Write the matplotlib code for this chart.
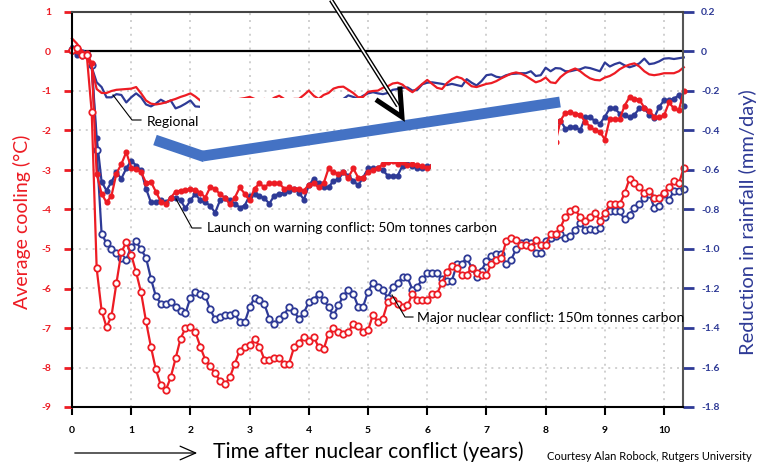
import matplotlib
matplotlib.use("Agg")
import matplotlib.pyplot as plt
import matplotlib.transforms as mtransforms
from matplotlib.lines import Line2D
from matplotlib.patches import Rectangle
import numpy as np

plt.rcParams["axes.unicode_minus"] = False
plt.rcParams["font.family"] = ["Lato", "DejaVu Sans"]

RED = "#ed1c24"
BLUE = "#2e3a96"
STROKE_BLUE = "#4472c4"
nan = np.nan

# monthly samples, years after the conflict
years = np.arange(125) / 12

# --- major nuclear conflict (150 Tg) ---
major_cool = [
    0.05, 0.08, -0.08, -0.10, -1.54, -5.49, -6.56, -6.98, -6.70, -5.87,
    -5.08, -4.83, -5.14, -5.59, -6.10, -6.83, -7.48, -8.05, -8.45, -8.58,
    -8.25, -7.77, -7.27, -7.00, -6.98, -7.10, -7.47, -7.80, -7.97, -8.15,
    -8.33, -8.43, -8.25, -7.90, -7.57, -7.47, -7.44, -7.27, -7.47, -7.80,
    -7.82, -7.75, -7.77, -7.90, -7.90, -7.49, -7.37, -7.22, -7.32, -7.22,
    -7.49, -7.54, -7.14, -7.01, -7.10, -7.14, -7.11, -6.89, -6.96, -7.11,
    -7.06, -6.66, -6.86, -6.76, -6.35, -6.30, -6.40, -6.48, -6.43, -6.13,
    -6.28, -6.30, -6.28, -6.13, -6.13, -5.85, -5.57, -5.42, -5.49, -5.65,
    -5.65, -5.47, -5.60, -5.67, -5.67, -5.37, -5.29, -5.24, -4.81, -4.73,
    -4.78, -4.91, -4.91, -4.94, -4.78, -4.91, -4.89, -4.63, -4.61, -4.46,
    -4.18, -4.03, -4.00, -4.20, -4.28, -4.20, -4.08, -4.28, -4.10, -3.85,
    -3.87, -3.87, -3.59, -3.22, -3.32, -3.44, -3.57, -3.54, -3.70, -3.70,
    -3.57, -3.44, -3.27, -3.34, -2.94,
]
major_rain = [
    0.01, 0.0, -0.01, -0.02, -0.07, -0.50, -0.922, -0.972, -1.002, -1.018,
    -1.048, -1.054, -0.988, -0.962, -1.002, -1.044, -1.15, -1.24, -1.276, -1.28,
    -1.27, -1.292, -1.312, -1.326, -1.246, -1.216, -1.226, -1.236, -1.306, -1.356,
    -1.346, -1.336, -1.336, -1.326, -1.372, -1.372, -1.296, -1.246, -1.256, -1.28,
    -1.352, -1.378, -1.352, -1.332, -1.292, -1.312, -1.356, -1.322, -1.27, -1.256,
    -1.226, -1.256, -1.296, -1.336, -1.286, -1.236, -1.206, -1.226, -1.292, -1.292,
    -1.216, -1.17, -1.194, -1.21, -1.246, -1.194, -1.17, -1.144, -1.144, -1.206,
    -1.19, -1.154, -1.124, -1.12, -1.124, -1.15, -1.164, -1.16, -1.078, -1.074,
    -1.044, -1.094, -1.144, -1.11, -1.06, -1.034, -1.024, -1.024, -1.078, -1.054,
    -1.002, -0.972, -0.966, -0.972, -1.018, -1.022, -0.962, -0.946, -0.932, -0.922,
    -0.942, -0.936, -0.902, -0.87, -0.902, -0.90, -0.906, -0.892, -0.836, -0.81,
    -0.806, -0.81, -0.85, -0.826, -0.79, -0.77, -0.744, -0.72, -0.79, -0.784,
    -0.72, -0.75, -0.708, -0.704, -0.698,
]

# --- launch on warning conflict (50 Tg); gap = hidden in the source image ---
launch_cool = [
    0.0, 0.02, -0.05, -0.05, -0.30, -3.10, -3.60, -3.82, -3.65, -3.09,
    -2.85, -2.55, -2.94, -2.98, -3.05, -3.32, -3.30, -3.55, -3.80, -3.85,
    -3.70, -3.55, -3.52, -3.50, -3.49, -3.50, -3.57, -3.70, -3.44, -3.47,
    -3.62, -3.70, -3.87, -3.70, -3.44, -3.60, -3.77, -3.47, -3.34, -3.44,
    -3.34, -3.32, -3.34, -3.47, -3.44, -3.47, -3.47, -3.52, -3.37, -3.34,
    -3.44, -3.34, -2.96, -3.06, -3.09, -3.06, -3.19, -2.96, -3.19, -3.19,
    -3.06, -2.99, -2.94, -2.86, -2.80, -2.78, -2.85, -2.80, -2.87, -2.85,
    -2.88, -2.90, -2.94, -2.90,
] + [nan] * 23 + [
    -2.50, -2.30, -1.75,
    -1.55, -1.54, -1.57, -1.60, -1.78, -1.90, -2.00, -2.03, -2.23, -1.70,
    -1.72, -1.72, -1.37, -1.16, -1.19, -1.22, -1.42, -1.50, -1.65, -1.67,
    -1.62, -1.29, -1.44, -1.49, -0.99,
]
launch_rain = [
    0.02, -0.02, -0.024, -0.01, -0.07, -0.436, -0.66, -0.704, -0.66, -0.612,
    -0.644, -0.592, -0.552, -0.578, -0.602, -0.694, -0.764, -0.764, -0.75, -0.764,
    -0.744, -0.74, -0.754, -0.794, -0.754, -0.72, -0.754, -0.764, -0.78, -0.816,
    -0.754, -0.744, -0.754, -0.77, -0.79, -0.78, -0.73, -0.724, -0.73, -0.744,
    -0.77, -0.73, -0.72, -0.714, -0.704, -0.694, -0.714, -0.75, -0.678, -0.644,
    -0.668, -0.688, -0.688, -0.654, -0.648, -0.612, -0.628, -0.654, -0.678, -0.638,
    -0.592, -0.592, -0.592, -0.602, -0.628, -0.632, -0.628, -0.578, -0.572, -0.578,
    -0.588, -0.592, -0.582, -0.58,
] + [nan] * 23 + [
    -0.40, -0.38, -0.35,
    -0.39, -0.384, -0.38, -0.40, -0.334, -0.33, -0.354, -0.366, -0.33, -0.288,
    -0.288, -0.314, -0.324, -0.334, -0.32, -0.288, -0.288, -0.32, -0.336, -0.28,
    -0.248, -0.248, -0.238, -0.222, -0.274,
]

# --- regional conflict ---
regional_cool = [
    0.33, 0.20, 0.02, -0.15, -0.40, -0.95, -1.05, -1.05, -1.00, -0.97,
    -0.96, -0.95, -0.94, -0.90, -1.06, -1.24, -1.32, -1.34, -1.32, -1.29,
    -1.24, -1.20, -1.15, -1.11, -1.06, -1.14, -1.24, -1.30, -1.30, -1.30,
    -1.25, -1.25, -1.20, -1.22, -1.20, -1.18, -1.15, -1.20, -1.25, -1.20,
    -1.25, -1.17, -1.12, -1.20, -1.25, -1.20, -1.20, -1.10, -0.99, -1.12,
    -1.20, -1.10, -1.05, -0.94, -0.90, -0.89, -0.97, -1.05, -1.16, -1.15,
    -1.02, -1.00, -0.99, -0.92, -0.88, -0.81, -0.79, -0.84, -0.95, -1.03,
    -0.93, -0.82, -0.72, -0.82, -0.92, -0.95, -0.80, -0.70, -0.64, -0.68,
    -0.78, -0.88, -0.90, -0.86, -0.82, -0.80, -0.75, -0.68, -0.62, -0.56,
    -0.53, -0.56, -0.62, -0.70, -0.78, -0.74, -0.66, -0.78, -0.80, -0.65,
    -0.55, -0.48, -0.43, -0.50, -0.60, -0.68, -0.72, -0.73, -0.66, -0.62,
    -0.55, -0.45, -0.38, -0.33, -0.30, -0.38, -0.50, -0.58, -0.60, -0.58,
    -0.55, -0.55, -0.55, -0.50, -0.40,
]
regional_rain = [
    0.03, 0.0, -0.01, -0.01, -0.08, -0.156, -0.18, -0.232, -0.232, -0.216,
    -0.22, -0.258, -0.232, -0.212, -0.232, -0.268, -0.278, -0.264, -0.244, -0.258,
    -0.248, -0.288, -0.278, -0.264, -0.248, -0.278, -0.28, -0.27, -0.28, -0.26,
    -0.27, -0.28, -0.26, -0.27, -0.28, -0.26, -0.26, -0.25, -0.26, -0.27,
    -0.26, -0.25, -0.26, -0.27, -0.26, -0.25, -0.26, -0.25, -0.25, -0.24,
    -0.25, -0.26, -0.25, -0.24, -0.25, -0.24, -0.222, -0.23, -0.24, -0.224,
    -0.212, -0.206, -0.212, -0.216, -0.21, -0.194, -0.19, -0.184, -0.182, -0.198,
    -0.194, -0.166, -0.158, -0.156, -0.16, -0.164, -0.17, -0.164, -0.17, -0.176,
    -0.14, -0.158, -0.172, -0.15, -0.12, -0.116, -0.128, -0.132, -0.12, -0.114,
    -0.112, -0.11, -0.11, -0.10, -0.124, -0.12, -0.082, -0.10, -0.084, -0.086,
    -0.10, -0.10, -0.094, -0.09, -0.08, -0.084, -0.092, -0.10, -0.056, -0.076,
    -0.064, -0.056, -0.07, -0.08, -0.072, -0.06, -0.036, -0.064, -0.06, -0.05,
    -0.036, -0.034, -0.038, -0.034, -0.03,
]

cool_ticks = list(range(-9, 2))
rain_ticks = [-1.8, -1.6, -1.4, -1.2, -1.0, -0.8, -0.6, -0.4, -0.2, 0.0, 0.2]
rain_labels = ["-1.8", "-1.6", "-1.4", "-1.2", "-1.0", "-0.8", "-0.6", "-0.4", "-0.2", "0", "0.2"]
year_ticks = list(range(0, 11))

# ---------------------------------------------------------------------------
W, H = 757, 470
fig = plt.figure(figsize=(W / 100, H / 100), dpi=100)
ax = fig.add_axes([72 / W, 1 - 407 / H, (683 - 72) / W, (407 - 12) / H])
ax2 = ax.twinx()
ax.set_zorder(2)
ax.patch.set_visible(False)

ax.set_xlim(0, 10.32)
ax.set_ylim(-9, 1)
ax2.set_ylim(-1.8, 0.2)

# pixel coordinates (origin top-left) for the overlaid sketch marks
PX = mtransforms.Affine2D().scale(1 / W, -1 / H).translate(0, 1) + fig.transFigure

# grid + zero line sit under everything
for xv in year_ticks[1:]:
    ax2.axvline(xv, color="#c4c4c4", lw=1.1, ls=(0, (1.3, 3.2)), zorder=0)
for yv in rain_ticks[1:-2]:
    ax2.axhline(yv, color="#c4c4c4", lw=1.1, ls=(0, (1.3, 3.2)), zorder=0)
ax2.axhline(0, color="black", lw=1.6, zorder=0.5)

# parts of the source image where the lines were blanked out (cooling units)
hidden_edges = dict(x_a=2.16, x_b=6.05, x_c=8.21, y_a=-1.165, y_b=-2.81, y_c=-3.77)
e = hidden_edges
visible = [
    (-1, -12, e["x_a"] + 1, 15),
    (e["x_c"], -12, 5, 15),
    (e["x_a"], e["y_a"], e["x_c"] - e["x_a"], 5),
    (e["x_a"], -12, e["x_b"] - e["x_a"], e["y_b"] + 12),
    (e["x_b"], -12, e["x_c"] - e["x_b"], e["y_c"] + 12),
]
clips = [Rectangle((x0, y0), w, h, transform=ax.transData) for x0, y0, w, h in visible]


def draw(axis, y, **kw):
    for c in clips:
        line, = axis.plot(years, y, **kw)
        line.set_clip_path(c)


draw(ax2, regional_rain, color=BLUE, lw=1.6, zorder=2)
draw(ax2, launch_rain, color=BLUE, lw=1.6, marker="o", ms=3.4, zorder=2)
draw(ax2, major_rain, color=BLUE, lw=1.6, marker="o", ms=4.6, mfc="white",
     mew=1.3, zorder=2)
draw(ax, regional_cool, color=RED, lw=1.6, zorder=2)
draw(ax, launch_cool, color=RED, lw=1.6, marker="o", ms=3.4, zorder=2)
draw(ax, major_cool, color=RED, lw=1.6, marker="o", ms=4.6, mfc="white",
     mew=1.3, zorder=2)

# axes styling
ax.set_xticks(year_ticks)
ax.set_yticks(cool_ticks)
ax2.set_yticks(rain_ticks)
ax2.set_yticklabels(rain_labels)
ax.tick_params(axis="x", colors="black", length=6, width=1.5, pad=8)
ax.tick_params(axis="y", colors=RED, length=6, width=2, pad=9)
ax2.tick_params(axis="y", colors=BLUE, length=8, width=2, pad=5)
for lab in ax.get_xticklabels() + ax.get_yticklabels() + ax2.get_yticklabels():
    lab.set_fontweight("bold")
    lab.set_fontsize(7.5)
for s in ax2.spines.values():
    s.set_visible(False)
ax.spines["left"].set_linewidth(1.5)
ax.spines["bottom"].set_linewidth(1.5)
ax.spines["top"].set_color("#444444")
ax.spines["top"].set_linewidth(1.5)
ax.spines["right"].set_color("#555555")
ax.spines["right"].set_linewidth(1.5)

# axis titles
fig.text(22 / W, 1 - 222 / H, "Average cooling (\u00b0C)", color=RED, fontsize=14,
         rotation=90, ha="center", va="center")
fig.text(748 / W, 1 - 222 / H, "Reduction in rainfall (mm/day)", color=BLUE,
         fontsize=14.5, rotation=90, ha="center", va="center")
fig.text(213 / W, 1 - 452 / H, "Time after nuclear conflict (years)", fontsize=15.2,
         ha="left", va="center")
fig.text(547 / W, 1 - 457 / H, "Courtesy Alan Robock, Rutgers University",
         fontsize=8, ha="left", va="center")
ax.annotate("", xy=(200 / W, 1 - 453 / H), xytext=(72 / W, 1 - 453 / H),
            xycoords="figure fraction", textcoords="figure fraction",
            arrowprops=dict(arrowstyle="->,head_length=0.8,head_width=0.35",
                            lw=0.9, color="black", mutation_scale=14))

# series labels with leader lines
labels = [
    ("Regional", [(113, 95), (132, 120), (141, 120)], (147, 122)),
    ("Launch on warning conflict: 50m tonnes carbon",
     [(176, 199), (192, 228), (201, 228)], (207, 228)),
    ("Major nuclear conflict: 150m tonnes carbon",
     [(392, 295), (405, 317), (413, 317)], (417, 318)),
]
for text, leader, (tx, ty) in labels:
    lx, ly = zip(*leader)
    fig.add_artist(Line2D(lx, ly, transform=PX, color="black", lw=0.8, zorder=10))
    fig.text(tx / W, 1 - ty / H, text, fontsize=10, ha="left", va="center", zorder=10)

# overlaid sketch: thick blue stroke and hollow black arrow
fig.add_artist(Line2D([155, 205], [140, 157], transform=PX, color=STROKE_BLUE,
                      lw=7.8, solid_capstyle="butt", zorder=11))
fig.add_artist(Line2D([203, 560], [156, 102], transform=PX, color=STROKE_BLUE,
                      lw=7.8, solid_capstyle="butt", zorder=11))
fig.add_artist(Line2D([331, 398], [0, 106], transform=PX, color="black",
                      lw=3.2, solid_capstyle="butt", zorder=12))
fig.add_artist(Line2D([331, 398], [0, 106], transform=PX, color="white",
                      lw=1.2, solid_capstyle="butt", zorder=13))
fig.add_artist(Line2D([378, 402, 400], [101, 117, 89], transform=PX, color="black",
                      lw=3.6, solid_joinstyle="miter", zorder=14))

fig.savefig("out.png", dpi=100)
